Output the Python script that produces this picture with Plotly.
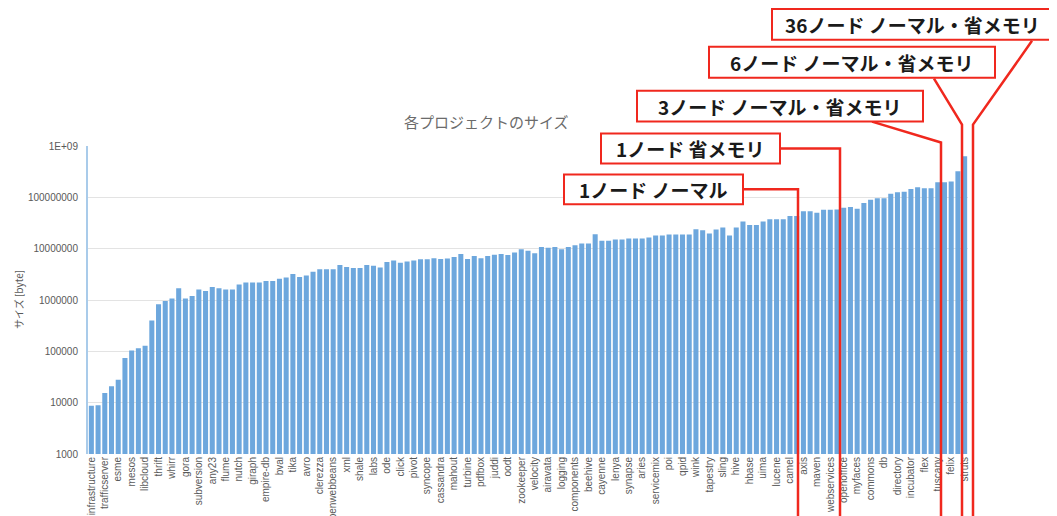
import plotly.graph_objects as go

# ---- data ----
sizes = [
    8.7e3, 8.9e3, 1.55e4, 2.1e4, 2.8e4, 7.4e4, 1.04e5, 1.15e5, 1.28e5, 4.0e5,
    8.3e5, 9.6e5, 1.07e6, 1.7e6, 1.07e6, 1.2e6, 1.6e6, 1.5e6, 1.8e6, 1.7e6,
    1.6e6, 1.6e6, 2.0e6, 2.2e6, 2.2e6, 2.2e6, 2.35e6, 2.35e6, 2.6e6, 2.75e6,
    3.2e6, 2.8e6, 3.0e6, 3.55e6, 3.95e6, 3.95e6, 3.95e6, 4.8e6, 4.4e6, 4.2e6,
    4.2e6, 4.8e6, 4.65e6, 4.3e6, 5.5e6, 5.9e6, 5.3e6, 5.6e6, 5.9e6, 6.2e6,
    6.2e6, 6.5e6, 6.3e6, 6.45e6, 6.85e6, 7.9e6, 6.3e6, 7.2e6, 6.5e6, 7.2e6,
    7.6e6, 7.9e6, 7.5e6, 8.4e6, 9.7e6, 9.1e6, 8.1e6, 1.08e7, 1.04e7, 1.08e7,
    9.7e6, 1.08e7, 1.17e7, 1.26e7, 1.26e7, 1.91e7, 1.42e7, 1.42e7, 1.51e7, 1.51e7,
    1.58e7, 1.58e7, 1.58e7, 1.65e7, 1.80e7, 1.80e7, 1.89e7, 1.89e7, 1.89e7, 1.89e7,
    2.39e7, 2.29e7, 1.97e7, 2.36e7, 2.57e7, 1.80e7, 2.57e7, 3.37e7, 2.90e7, 2.90e7,
    3.37e7, 3.74e7, 3.74e7, 3.74e7, 4.34e7, 4.34e7, 5.35e7, 5.35e7, 5.0e7, 5.7e7,
    5.7e7, 5.8e7, 6.3e7, 6.5e7, 6.0e7, 7.77e7, 9.0e7, 9.55e7, 9.55e7, 1.18e8,
    1.25e8, 1.29e8, 1.45e8, 1.58e8, 1.5e8, 1.5e8, 1.96e8, 1.96e8, 2.04e8, 3.24e8,
    6.3e8,
]
positions = list(range(len(sizes)))

tick_labels = [
    "infrastructure", "trafficserver", "esme", "mesos", "libcloud", "thrift", "whirr",
    "gora", "subversion", "any23", "flume", "nutch", "giraph", "empire-db", "bval",
    "tika", "avro", "clerezza", "openwebbeans", "xml", "shale", "labs", "ode", "click",
    "pivot", "syncope", "cassandra", "mahout", "turbine", "pdfbox", "juddi", "oodt",
    "zookeeper", "velocity", "airavata", "logging", "components", "beehive", "cayenne",
    "lenya", "synapse", "aries", "servicemix", "poi", "qpid", "wink", "tapestry",
    "sling", "hive", "hbase", "uima", "lucene", "camel", "axis", "maven",
    "webservices", "openoffice", "myfaces", "commons", "db", "directory", "incubator",
    "flex", "tuscany", "felix", "struts",
]
tick_positions = positions[::2]

y_tickvals = [1e3, 1e4, 1e5, 1e6, 1e7, 1e8, 1e9]
y_ticktext = ["1000", "10000", "100000", "1000000", "10000000", "100000000", "1E+09"]

title_text = "各プロジェクトのサイズ"
yaxis_title = "サイズ [byte]"
callouts = [
    "1ノード ノーマル",
    "1ノード 省メモリ",
    "3ノード ノーマル・省メモリ",
    "6ノード ノーマル・省メモリ",
    "36ノード ノーマル・省メモリ",
]

# ---- layout geometry (screen pixels; page body has an 8px margin) ----
OFF = 8
W, H = 1057 - OFF, 516 - OFF
L, R, T, B = 88 - OFF, 968 - OFF, 145.5 - OFF, 454.5 - OFF


def px(x):
    return (x - OFF - L) / (R - L)


def py(y):
    return (B - (y - OFF)) / (B - T)


fig = go.Figure(
    go.Bar(
        x=positions,
        y=sizes,
        marker=dict(color="#6DA7DD", line=dict(width=0)),
        hoverinfo="skip",
    )
)

FONT = "Liberation Sans, Arial, Noto Sans CJK JP, sans-serif"
JFONT = "Noto Sans CJK JP, sans-serif"

fig.update_layout(
    width=W,
    height=H,
    margin=dict(l=L, r=W - R, t=T, b=H - B, pad=0, autoexpand=False),
    paper_bgcolor="white",
    plot_bgcolor="white",
    bargap=0.25,
    showlegend=False,
    font=dict(family=FONT, color="#595959"),
)

fig.update_xaxes(
    automargin=False,
    range=[-0.5, len(sizes) - 0.5],
    tickmode="array",
    tickvals=tick_positions,
    ticktext=tick_labels,
    tickangle=-90,
    tickfont=dict(size=10, color="#595959", family=FONT),
    showgrid=False,
    zeroline=False,
    showline=False,
    ticks="",
)

fig.update_yaxes(
    automargin=False,
    type="log",
    range=[3, 9],
    tickmode="array",
    tickvals=y_tickvals,
    ticktext=y_ticktext,
    tickfont=dict(size=10, color="#595959", family=FONT),
    showgrid=True,
    gridcolor="#E3E3E3",
    gridwidth=1,
    zeroline=False,
    showline=True,
    linecolor="#A9CBEA",
    linewidth=2,
    ticks="",
    ticklabelstandoff=6,
)

annotations = [
    dict(
        text=title_text, xref="paper", yref="paper", x=px(486), y=py(121),
        showarrow=False, font=dict(size=15, color="#6B6B6B", family=JFONT),
        xanchor="center", yanchor="middle",
    ),
    dict(
        text=yaxis_title, xref="paper", yref="paper", x=px(18), y=py(300),
        showarrow=False, textangle=-90, font=dict(size=10, color="#595959", family=JFONT),
        xanchor="center", yanchor="middle",
    ),
]
shapes = []

# callout boxes: (x0, x1, y0, y1) and leader polyline points, in screen pixels
boxes = [
    ((564, 743, 174, 204), [(743, 189), (798, 189), (798, 520)]),
    ((601, 780, 133, 163), [(780, 148), (840, 148), (840, 520)]),
    ((637, 923, 90, 121), [(872, 121), (941, 142), (941, 520)]),
    ((709, 995, 46, 77), [(934, 78), (962, 124), (962, 520)]),
    ((772, 1052, 8, 39), [(1032, 40), (973, 124), (973, 520)]),
]

RED = "#F0281E"
for text, (box, pts) in zip(callouts, boxes):
    x0, x1, y0, y1 = box
    path = "M " + " L ".join(f"{px(x)},{py(y)}" for x, y in pts)
    shapes.append(dict(
        type="path", path=path, xref="paper", yref="paper",
        line=dict(color=RED, width=2.5), layer="above",
    ))
    shapes.append(dict(
        type="rect", xref="paper", yref="paper",
        x0=px(x0), x1=px(x1), y0=py(y1), y1=py(y0),
        line=dict(color=RED, width=2), fillcolor="white", layer="above",
    ))
    annotations.append(dict(
        text=f"<b>{text}</b>", xref="paper", yref="paper",
        x=px((x0 + x1) / 2), y=py((y0 + y1) / 2),
        showarrow=False, xanchor="center", yanchor="middle",
        font=dict(size=19, color="#1A1A1A", family=JFONT),
    ))

fig.update_layout(shapes=shapes, annotations=annotations)

fig.write_html("out.html")
